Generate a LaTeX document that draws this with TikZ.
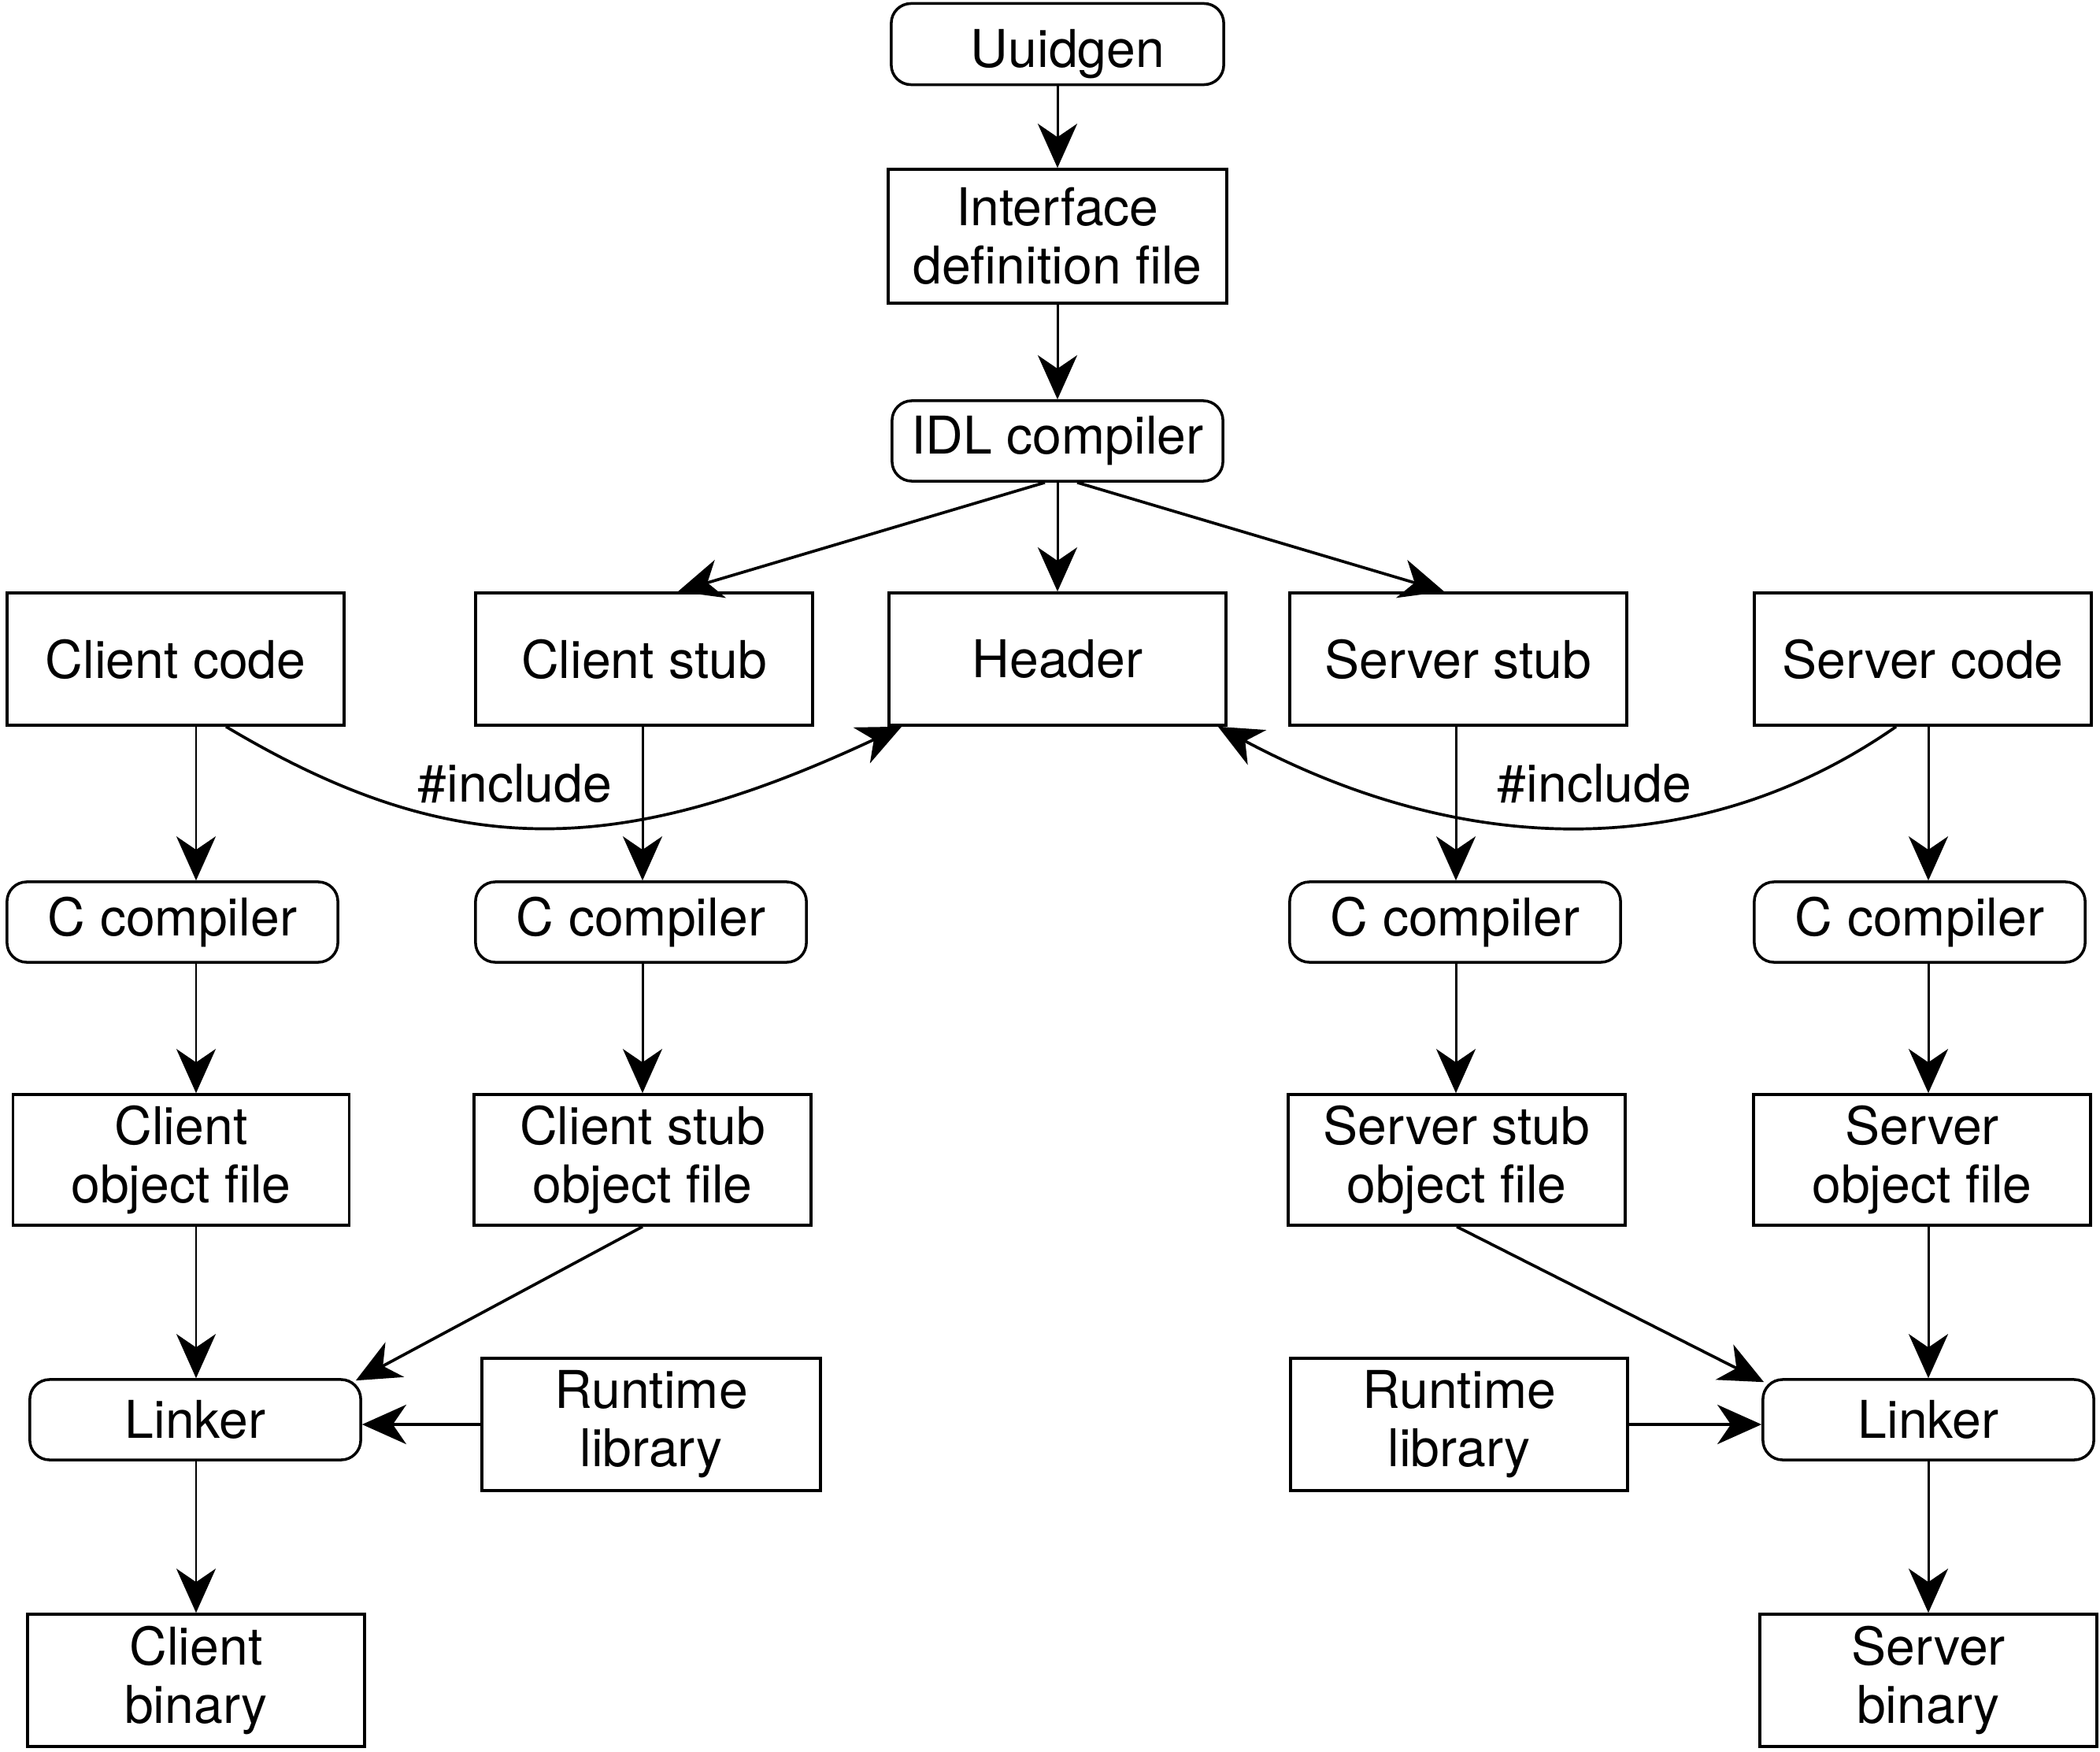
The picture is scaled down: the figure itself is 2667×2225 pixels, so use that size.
\documentclass[tikz,border=0pt]{standalone}
\usepackage{fontspec}
\setmainfont{TeX Gyre Heros}
\usetikzlibrary{arrows.meta,calc}
\begin{document}
\begin{tikzpicture}[x=0.01cm,y=-0.01cm,
  every node/.style={font=\fontsize{18.8}{21}\selectfont, inner sep=0pt, align=center},
  sqbox/.style={draw, line width=1pt, minimum width=4.28cm, minimum height=1.68cm},
  rbox/.style={draw, line width=1pt, rounded corners=0.25cm, minimum width=4.2cm, minimum height=1.02cm},
  arr/.style={line width=0.85pt, -{Stealth[length=0.56cm, width=0.5cm, inset=0.17cm]}},
  carr/.style={line width=1.05pt, -{Stealth[length=0.56cm, width=0.5cm, inset=0.17cm]}},
  lbl/.style={anchor=base}
]
\useasboundingbox (0,0) rectangle (2667,2225);

% top column
\node[rbox, minimum width=4.22cm, minimum height=1.03cm, text height=16.9pt, text depth=0pt] (uuid) at (1343,56) {\hspace*{0.26cm}Uuidgen};
\node[sqbox, minimum width=4.3cm, minimum height=1.7cm] (idf) at (1343,300) {Interface\\definition file};
\node[rbox] (idl) at (1343,560) {IDL compiler};

% second row
\node[sqbox] (ccode) at (223,837) {Client code};
\node[sqbox] (cstub) at (818,837) {Client stub};
\node[sqbox] (hdr) at (1343,837) {Header};
\node[sqbox] (sstub) at (1852,837) {Server stub};
\node[sqbox] (scode) at (2442,837) {Server code};

% compilers
\node[rbox] (ccA) at (219,1171) {C compiler};
\node[rbox] (ccB) at (814,1171) {C compiler};
\node[rbox] (ccC) at (1848,1171) {C compiler};
\node[rbox] (ccD) at (2438,1171) {C compiler};

% object files
\node[sqbox, minimum width=4.27cm, minimum height=1.66cm] (objA) at (230,1473) {Client\\object file};
\node[sqbox, minimum height=1.66cm] (objB) at (816,1473) {Client stub\\object file};
\node[sqbox, minimum height=1.66cm] (objC) at (1850,1473) {Server stub\\object file};
\node[sqbox, minimum height=1.66cm] (objD) at (2441,1473) {Server\\object file};

% linkers and runtime libraries
\node[rbox] (lnkA) at (248,1803) {Linker};
\node[rbox] (lnkB) at (2449,1803) {Linker};
\node[sqbox, minimum width=4.3cm] (rtA) at (827,1809) {Runtime\\library};
\node[sqbox] (rtB) at (1853,1809) {Runtime\\library};

% binaries
\node[sqbox] (binA) at (249,2134) {Client\\binary};
\node[sqbox] (binB) at (2449,2134) {Server\\binary};

% column guides
\coordinate (colA) at (249,0);
\coordinate (colB) at (816,0);
\coordinate (colC) at (1849,0);
\coordinate (colD) at (2449,0);

% top arrows
\draw[arr] (uuid) -- (idf);
\draw[arr] (idf) -- (idl);
\draw[arr] (idl) -- (hdr);
\draw[carr] ($(idl.south)+(-16,0)$) -- ($(cstub.north)+(43,0)$);
\draw[carr] ($(idl.south)+(25,0)$) -- ($(sstub.north)+(-18,0)$);

% code -> compilers
\draw[arr] (ccode.south -| colA) -- (ccA.north -| colA);
\draw[arr] (cstub.south -| colB) -- (ccB.north -| colB);
\draw[arr] (sstub.south -| colC) -- (ccC.north -| colC);
\draw[arr] (scode.south -| colD) -- (ccD.north -| colD);

% compilers -> object files
\draw[arr] (ccA.south -| colA) -- (objA.north -| colA);
\draw[arr] (ccB.south -| colB) -- (objB.north -| colB);
\draw[arr] (ccC.south -| colC) -- (objC.north -| colC);
\draw[arr] (ccD.south -| colD) -- (objD.north -| colD);

% object files -> linkers
\draw[arr] (objA.south -| colA) -- (lnkA.north -| colA);
\draw[carr] (objB.south) -- ($(lnkA.north east)+(-8,3)$);
\draw[carr] (objC.south) -- ($(lnkB.north west)+(3,5)$);
\draw[arr] (objD.south -| colD) -- (lnkB.north -| colD);

% runtime -> linkers
\draw[carr] (rtA.west) -- (rtA.west -| lnkA.east);
\draw[carr] (rtB.east) -- (rtB.east -| lnkB.west);

% linkers -> binaries
\draw[arr] (lnkA.south -| colA) -- (binA.north -| colA);
\draw[arr] (lnkB.south -| colD) -- (binB.north -| colD);

% #include curves
\draw[carr] ($(ccode.south)+(64,0)$) .. controls (572,1093) and (781,1093) .. ($(hdr.south west)+(18,0)$);
\draw[carr] ($(scode.south)+(-34,0)$) .. controls (2164,1093) and (1866,1093) .. ($(hdr.south east)+(-12,0)$);
\node[lbl] (incA) at (654,1018) {\#include};
\node[lbl] (incB) at (2025,1018) {\#include};
\end{tikzpicture}
\end{document}
